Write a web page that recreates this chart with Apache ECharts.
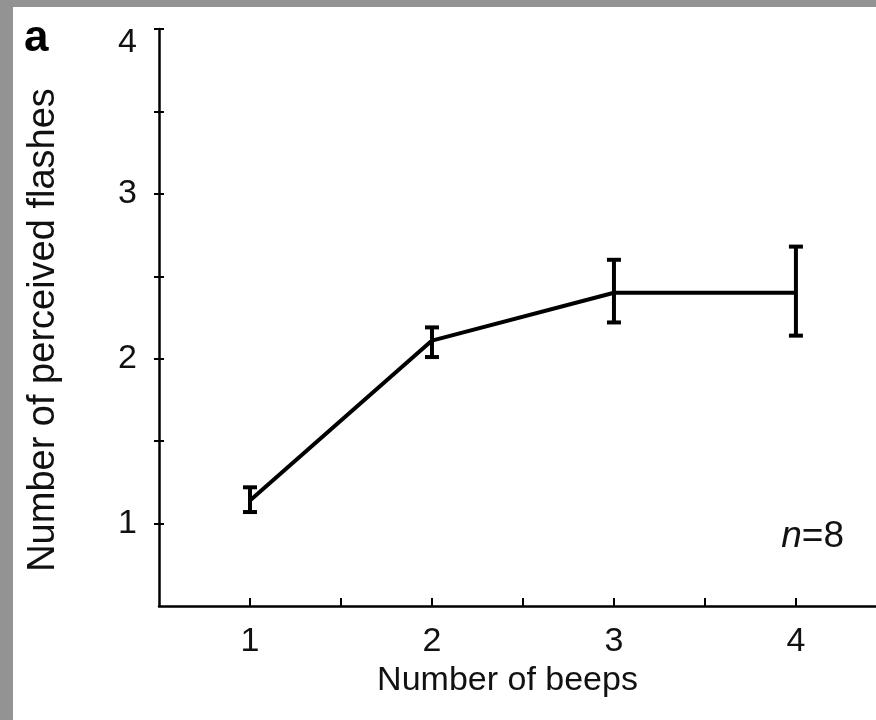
<!DOCTYPE html>
<html>
<head>
<meta charset="utf-8">
<script src="https://cdn.jsdelivr.net/npm/echarts@6/dist/echarts.min.js"></script>
<style>
html,body{margin:0;padding:0;background:#fff;}
#chart{width:876px;height:720px;}
</style>
</head>
<body>
<div id="chart"></div>
<script>
// Data
var beeps = [1, 2, 3, 4];
var meanFlashes = [1.14, 2.11, 2.40, 2.40];
var errLow = [1.07, 2.01, 2.22, 2.14];
var errHigh = [1.22, 2.19, 2.60, 2.68];
var xTickLabels = [1, 2, 3, 4];
var yTickLabels = [1, 2, 3, 4];
var panelLabel = 'a';
var sampleNote = 'n';
var sampleSize = 8;

var FONT = '"Liberation Sans", Arial, Helvetica, sans-serif';

var lineData = beeps.map(function (b, i) { return [b, meanFlashes[i]]; });
var errData = beeps.map(function (b, i) { return [b, errLow[i], errHigh[i]]; });

var chart = echarts.init(document.getElementById('chart'));
chart.setOption({
  backgroundColor: '#ffffff',
  animation: false,
  grid: { left: 159, right: 0, top: 29, bottom: 114, containLabel: false },
  xAxis: {
    type: 'value', min: 0.5, max: 4.44, interval: 0.5,
    name: 'Number of beeps', nameLocation: 'middle', nameGap: 56,
    nameTextStyle: { fontFamily: FONT, fontSize: 34, color: '#111', padding: [0, 20, 0, 0] },
    axisLine: { show: true, onZero: false, lineStyle: { color: '#000', width: 2.5 } },
    axisTick: { show: true, inside: true, length: 8, lineStyle: { color: '#000', width: 2 },
      customValues: [1, 1.5, 2, 2.5, 3, 3.5, 4] },
    axisLabel: { show: true, margin: 19, fontFamily: FONT, fontSize: 34, color: '#111',
      customValues: xTickLabels },
    splitLine: { show: false }
  },
  yAxis: [{
    type: 'value', min: 0.5, max: 4, interval: 0.5,
    name: 'Number of perceived flashes', nameLocation: 'middle', nameGap: 96,
    nameTextStyle: { fontFamily: FONT, fontSize: 38, color: '#111', padding: [0, 25, 0, 0] },
    axisLine: { show: true, onZero: false, lineStyle: { color: '#000', width: 2.5 } },
    axisTick: { show: true, inside: false, length: 5, lineStyle: { color: '#000', width: 2 },
      customValues: [1, 1.5, 2, 2.5, 3, 3.5, 4] },
    axisLabel: { show: true, margin: 22, fontFamily: FONT, fontSize: 34, color: '#111',
      customValues: yTickLabels,
      formatter: function (v) { return v === 4 ? '{low|' + v + '}' : String(v); },
      rich: { low: { fontFamily: FONT, fontSize: 34, color: '#111', padding: [28, 0, 0, 0] } } },
    splitLine: { show: false }
  }, {
    type: 'value', min: 0.5, max: 4, interval: 0.5, position: 'left',
    axisLine: { show: false },
    axisTick: { show: true, inside: true, length: 5, lineStyle: { color: '#000', width: 2 },
      customValues: [1, 1.5, 2, 2.5, 3, 3.5, 4] },
    axisLabel: { show: false },
    splitLine: { show: false }
  }],
  series: [{
    type: 'line',
    data: lineData,
    symbol: 'none',
    lineStyle: { color: '#000', width: 4 },
    z: 3
  }, {
    type: 'custom',
    data: errData,
    z: 4,
    renderItem: function (params, api) {
      var x = api.value(0);
      var lo = api.coord([x, api.value(1)]);
      var hi = api.coord([x, api.value(2)]);
      var hw = 7;
      var st = { stroke: '#000', lineWidth: 4, fill: null };
      return {
        type: 'group',
        children: [
          { type: 'line', shape: { x1: lo[0], y1: lo[1], x2: hi[0], y2: hi[1] }, style: st },
          { type: 'line', shape: { x1: lo[0] - hw, y1: lo[1], x2: lo[0] + hw, y2: lo[1] }, style: st },
          { type: 'line', shape: { x1: hi[0] - hw, y1: hi[1], x2: hi[0] + hw, y2: hi[1] }, style: st }
        ]
      };
    }
  }],
  graphic: [
    { type: 'rect', left: 0, top: 0, shape: { width: 876, height: 7 }, style: { fill: '#939393' }, silent: true },
    { type: 'rect', left: 0, top: 0, shape: { width: 13, height: 720 }, style: { fill: '#939393' }, silent: true },
    { type: 'text', x: 24, y: 39, style: { text: panelLabel, fontFamily: FONT, fontSize: 44, fontWeight: 'bold',
      fill: '#000', align: 'left', verticalAlign: 'middle' } },
    { type: 'text', x: 844, y: 537, style: {
      text: '{i|' + sampleNote + '}=' + sampleSize,
      fontFamily: FONT, fontSize: 37, fill: '#111', align: 'right', verticalAlign: 'middle',
      rich: { i: { fontFamily: FONT, fontSize: 37, fontStyle: 'italic', fill: '#111' } } } }
  ]
});
</script>
</body>
</html>
